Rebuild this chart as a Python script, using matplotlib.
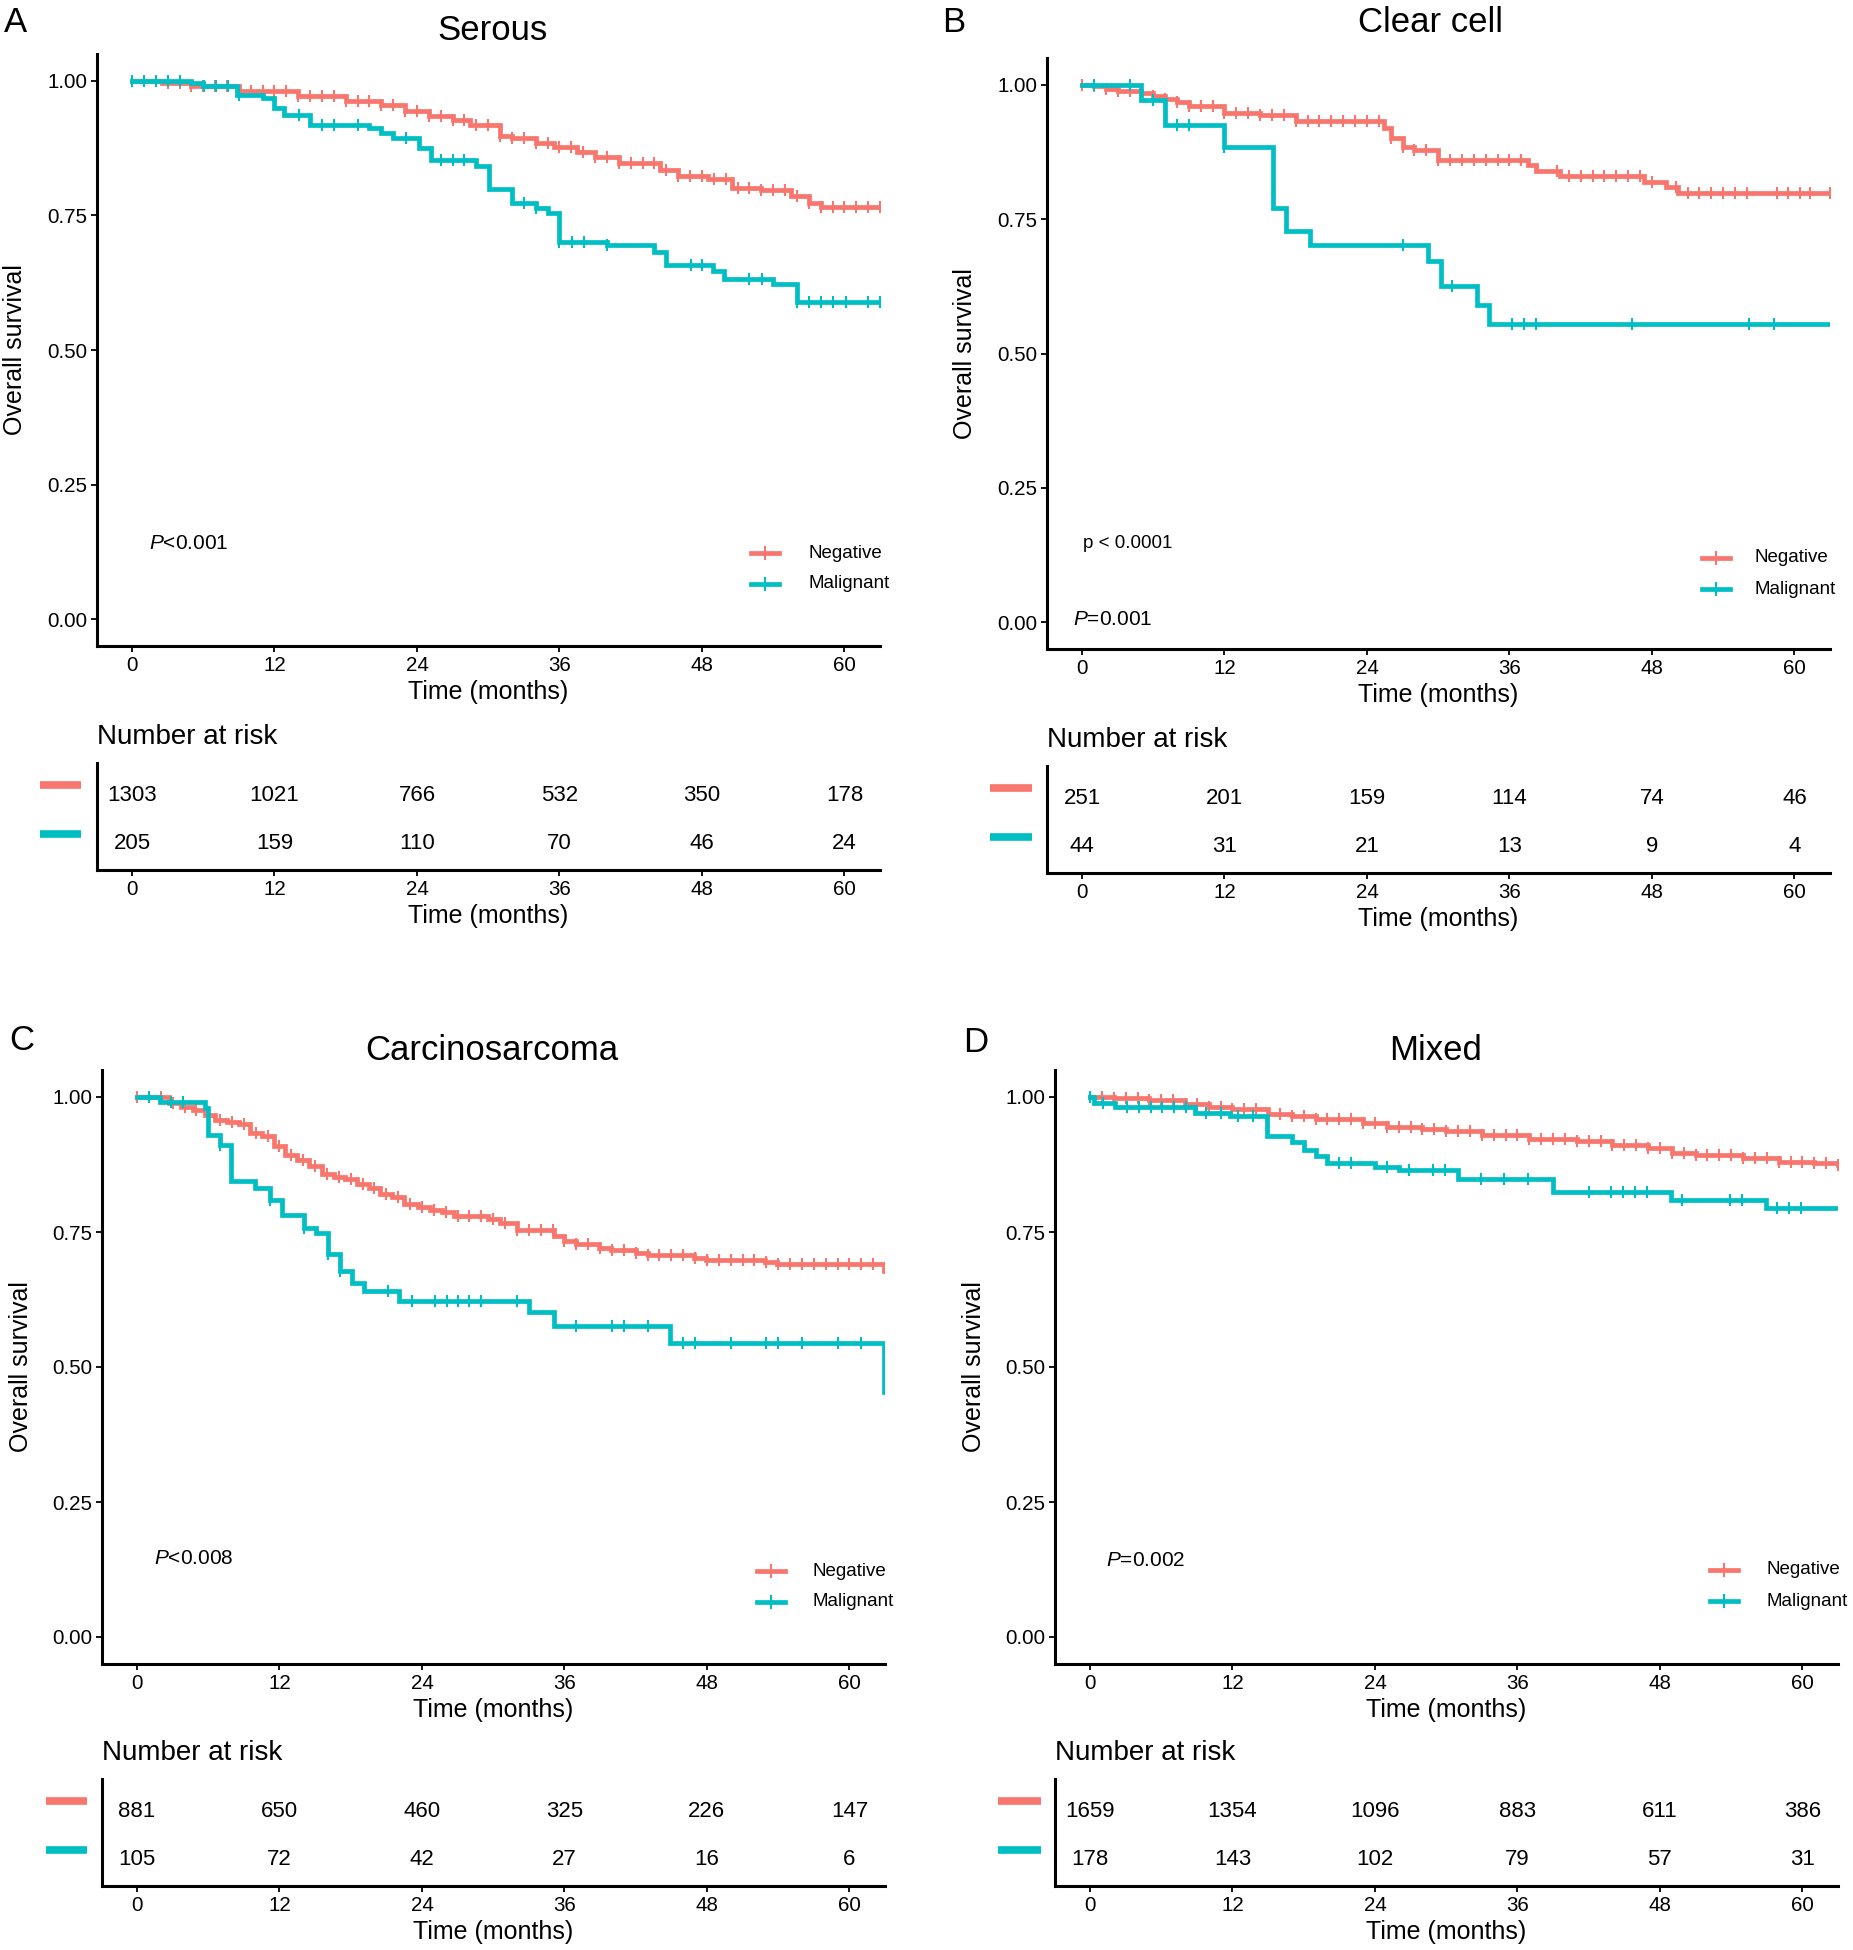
import numpy as np
import matplotlib
matplotlib.use("Agg")
import matplotlib.pyplot as plt
from matplotlib.lines import Line2D

plt.rcParams['font.family'] = ['Liberation Sans', 'DejaVu Sans']
plt.rcParams['mathtext.fontset'] = 'custom'
plt.rcParams['mathtext.rm'] = 'Liberation Sans'
plt.rcParams['mathtext.it'] = 'Liberation Sans:italic'

RED = '#F8766D'
TEAL = '#00BFC4'

# ---- data ----
time_ticks = [0, 12, 24, 36, 48, 60]
group_labels = ['Negative', 'Malignant']

# A  Serous
a_neg_t = [0, 2.5, 5, 9, 14, 18, 21, 23, 25, 27, 28.5, 31, 32, 34, 35.5, 37.5, 39, 41, 44.5, 46, 48.5, 50.5, 53, 55.5, 57, 58, 63]
a_neg_s = [1.0, 0.996, 0.99, 0.982, 0.972, 0.962, 0.955, 0.945, 0.935, 0.927, 0.918, 0.897, 0.893, 0.885, 0.877, 0.868, 0.858, 0.847, 0.834, 0.823, 0.818, 0.801, 0.797, 0.787, 0.774, 0.765, 0.765]
a_neg_c = [0, 1, 2, 3, 4, 5, 6, 7, 8, 9, 10, 11, 12, 13, 14, 15, 16, 17, 18, 19, 20, 21, 22, 23, 24, 25, 26, 27, 28, 29, 30,
           31, 32, 33, 34, 35, 36, 37, 38, 39, 40, 41, 42, 43, 44, 45, 46, 47, 48, 49, 50, 51, 52, 53, 54, 55, 56, 57, 58, 59, 60, 61, 62, 63]
a_mal_t = [0, 5, 6, 8.8, 11, 12, 12.8, 15, 20, 21, 22, 24.2, 25.2, 29, 30.1, 32, 34, 35, 36, 40, 44, 45, 48.9, 49.9, 54, 56, 63]
a_mal_s = [1.0, 0.996, 0.99, 0.974, 0.968, 0.949, 0.937, 0.918, 0.912, 0.903, 0.894, 0.875, 0.853, 0.842, 0.80, 0.773, 0.764, 0.755, 0.701, 0.695, 0.683, 0.658, 0.646, 0.632, 0.622, 0.59, 0.59]
a_mal_c = [0, 1, 2, 3, 4, 6.1, 7.1, 8.1, 9, 14.1, 16, 17, 19, 23.1, 26, 27, 28, 33, 34, 36, 37.1, 38.1, 40, 47.1, 48, 52, 53.1, 56, 57, 58, 59, 60.1, 62, 63]
a_risk_neg = [1303, 1021, 766, 532, 350, 178]
a_risk_mal = [205, 159, 110, 70, 46, 24]

# B  Clear cell
b_neg_t = [0, 1, 2, 3, 5, 6, 7, 8, 9, 12, 15, 18, 25.4, 26, 27, 28, 30, 37.6, 38.2, 40.3, 47.3, 49.2, 50.2, 63]
b_neg_s = [1.0, 0.997, 0.992, 0.989, 0.985, 0.979, 0.974, 0.968, 0.96, 0.948, 0.943, 0.932, 0.92, 0.901, 0.885, 0.879, 0.86, 0.851, 0.839, 0.83, 0.82, 0.81, 0.798, 0.798]
b_neg_c = [0, 1, 2, 3, 4, 6, 7, 8, 9, 10, 11, 12, 13, 14, 15, 16, 17, 18, 19, 20, 21, 22, 23, 24, 25, 26, 27, 28, 29, 30, 31,
           32, 33, 34, 35, 36, 37, 40, 41, 42, 43, 44, 45, 46, 47, 48, 50, 51, 52, 53, 54, 55, 56, 58.5, 59.5, 60.5, 61.3, 63]
b_mal_t = [0, 5, 7, 12, 16.1, 17.2, 19.2, 29.1, 30.2, 33.3, 34.3, 63]
b_mal_s = [1.0, 0.972, 0.925, 0.885, 0.77, 0.728, 0.702, 0.673, 0.625, 0.59, 0.555, 0.555]
b_mal_c = [1, 4, 6, 8, 9, 12, 27, 31.2, 36.2, 37.2, 38.2, 46.3, 56.2, 58.3]
b_risk_neg = [251, 201, 159, 114, 74, 46]
b_risk_mal = [44, 31, 21, 13, 9, 4]

# C  Carcinosarcoma
c_neg_t = [0, 2.7, 3.7, 4.7, 5.7, 6.6, 7.6, 8.6, 9.5, 10.5, 11.5, 12.5, 13.5, 14.5, 15.6, 16.6, 17.5, 18.5, 19.5, 20.5, 21.5, 22.5,
           23.7, 24.7, 25.7, 26.7, 29.6, 30.6, 32, 35.1, 36, 37, 38.9, 39.9, 42, 43, 46.9, 47.9, 52.9, 53.9, 62.9, 63]
c_neg_s = [1.0, 0.988, 0.982, 0.976, 0.966, 0.958, 0.953, 0.95, 0.933, 0.927, 0.909, 0.893, 0.884, 0.872, 0.858, 0.852, 0.848, 0.839, 0.831, 0.82, 0.814, 0.801,
           0.797, 0.791, 0.787, 0.779, 0.774, 0.766, 0.754, 0.742, 0.734, 0.728, 0.72, 0.716, 0.711, 0.708, 0.702, 0.699, 0.694, 0.691, 0.677, 0.677]
c_neg_c = [0, 1, 2, 3, 4, 5, 6, 7, 8, 9, 10, 11, 12, 13, 14, 15, 16, 17, 18, 19, 20, 21, 22, 23, 24, 25, 26, 27, 28, 29, 30,
           31, 32, 33, 34, 35, 36, 37, 38, 39, 40, 41, 42, 43, 44, 45, 46, 47, 48, 49, 50, 51, 52, 53, 54, 55, 56, 57, 58, 59, 60, 61, 62]
c_mal_t = [0, 1.9, 5.7, 6.0, 7.0, 7.95, 9.9, 11.2, 12.2, 14.1, 15.1, 16.1, 17.1, 18.1, 19.1, 22.1, 33.0, 35.1, 44.9, 62.9, 63]
c_mal_s = [1.0, 0.991, 0.979, 0.93, 0.912, 0.844, 0.832, 0.81, 0.781, 0.758, 0.749, 0.709, 0.678, 0.655, 0.641, 0.622, 0.602, 0.576, 0.544, 0.454, 0.454]
c_mal_c = [1, 2.9, 3.9, 7, 11.2, 14.1, 16.1, 17.1, 21.1, 23.2, 25.1, 26.1, 27, 28, 29, 32, 37, 40, 41, 43, 46, 47, 50, 53, 54, 56, 59, 61]
c_risk_neg = [881, 650, 460, 325, 226, 147]
c_risk_mal = [105, 72, 42, 27, 16, 6]

# D  Mixed
d_neg_t = [0, 2, 5, 8, 10, 12, 15, 17, 19, 23, 25, 28, 30, 33, 37, 41, 44, 47, 49, 51, 55, 58, 61, 63]
d_neg_s = [1.0, 0.998, 0.995, 0.987, 0.981, 0.977, 0.968, 0.964, 0.96, 0.952, 0.945, 0.941, 0.937, 0.93, 0.923, 0.918, 0.912, 0.906, 0.897, 0.893, 0.887, 0.88, 0.877, 0.875]
d_neg_c = [0, 1, 2, 3, 4, 5, 6, 7, 8, 9, 10, 11, 12, 13, 14, 15, 16, 17, 18, 19, 20, 21, 22, 23, 24, 25, 26, 27, 28, 29, 30,
           31, 32, 33, 34, 35, 36, 37, 38, 39, 40, 41, 42, 43, 44, 45, 46, 47, 48, 49, 50, 51, 52, 53, 54, 55, 56, 57, 58, 59, 60, 61, 62, 63]
d_mal_t = [0, 0.3, 2.1, 8.8, 11.8, 14.9, 17, 18, 19, 20, 24, 26, 31, 39, 48.9, 56.9, 63]
d_mal_s = [1.0, 0.989, 0.981, 0.971, 0.964, 0.927, 0.917, 0.902, 0.891, 0.877, 0.871, 0.865, 0.848, 0.824, 0.81, 0.795, 0.795]
d_mal_c = [0, 1.1, 3.1, 4.1, 5.1, 6.1, 7.1, 8.1, 9.8, 11, 12.5, 13.7, 21, 22, 25, 26.9, 28.9, 29.9, 32.9, 34.9, 36.9,
           42, 43.9, 44.9, 45.9, 46.9, 49.9, 53.9, 54.9, 57.9, 58.9, 59.9]
d_risk_neg = [1659, 1354, 1096, 883, 611, 386]
d_risk_mal = [178, 143, 102, 79, 57, 31]

W, H = 1853, 1950
fig = plt.figure(figsize=(W / 100, H / 100), dpi=100)


def box(l, t, r, b):
    # pixel box (from top-left) -> figure fraction rect
    return [l / W, 1 - b / H, (r - l) / W, (b - t) / H]


def ftext(x, y, s, **kw):
    fig.text(x / W, 1 - y / H, s, **kw)


def surv_at(times, surv, c):
    idx = np.searchsorted(times, c, side='right') - 1
    return np.asarray(surv)[np.clip(idx, 0, len(surv) - 1)]


def style_axis(ax):
    for sp in ['top', 'right']:
        ax.spines[sp].set_visible(False)
    for sp in ['left', 'bottom']:
        ax.spines[sp].set_linewidth(2.2)
    ax.tick_params(direction='out', length=4, width=1.3, labelsize=14.8, pad=3, colors='black')
    ax.set_xticks(time_ticks)
    ax.set_xlim(-2.95, 63)


panels = [
    dict(letter='A', title='Serous', neg=(a_neg_t, a_neg_s, a_neg_c), mal=(a_mal_t, a_mal_s, a_mal_c),
         risk=(a_risk_neg, a_risk_mal), main=(97, 54, 880, 646), tab=(97, 763, 880, 870), ylab_x=16,
         ptext=(149, 543, r'$\it{P}$<0.001'), p2=None, leg=(751, 553, 808), letter_xy=(15, 22),
         title_xy=(492, 30), bars=(40, 81)),
    dict(letter='B', title='Clear cell', neg=(b_neg_t, b_neg_s, b_neg_c), mal=(b_mal_t, b_mal_s, b_mal_c),
         risk=(b_risk_neg, b_risk_mal), main=(1047, 58, 1830, 649), tab=(1047, 766, 1830, 873), ylab_x=966,
         ptext=(1073, 619, r'$\it{P}$=0.001'), p2=(1083, 544, 'p < 0.0001'), leg=(1702, 558, 1755),
         letter_xy=(954, 22), title_xy=(1430, 22), bars=(990, 1032)),
    dict(letter='C', title='Carcinosarcoma', neg=(c_neg_t, c_neg_s, c_neg_c), mal=(c_mal_t, c_mal_s, c_mal_c),
         risk=(c_risk_neg, c_risk_mal), main=(102, 1070, 885, 1664), tab=(102, 1779, 885, 1886), ylab_x=22,
         ptext=(154, 1558, r'$\it{P}$<0.008'), p2=None, leg=(757, 1571, 813), letter_xy=(22, 1040),
         title_xy=(492, 1051), bars=(46, 87)),
    dict(letter='D', title='Mixed', neg=(d_neg_t, d_neg_s, d_neg_c), mal=(d_mal_t, d_mal_s, d_mal_c),
         risk=(d_risk_neg, d_risk_mal), main=(1055, 1070, 1838, 1664), tab=(1055, 1779, 1838, 1886), ylab_x=975,
         ptext=(1106, 1561, r'$\it{P}$=0.002'), p2=None, leg=(1710, 1570, 1766), letter_xy=(976, 1042),
         title_xy=(1436, 1050), bars=(998, 1041)),
]

for p in panels:
    l, t, r, b = p['main']
    ax = fig.add_axes(box(l, t, r, b))
    style_axis(ax)
    ax.set_ylim(-0.05, 1.05)
    ax.set_yticks([0, 0.25, 0.5, 0.75, 1.0])
    ax.set_yticklabels(['0.00', '0.25', '0.50', '0.75', '1.00'])

    for (tt, ss, cc), col in [(p['neg'], RED), (p['mal'], TEAL)]:
        ax.plot(tt, ss, drawstyle='steps-post', color=col, lw=3.4, solid_joinstyle='miter')
        ax.plot(cc, surv_at(tt, ss, cc), ls='none', marker='|', ms=9, mew=1.5, color=col)

    ax.set_xlabel('Time (months)', fontsize=18, labelpad=4)
    # y label centred on ylab_x (label anchor is its right edge)
    ax.set_ylabel('Overall survival', fontsize=18)
    ax.yaxis.set_label_coords((p['ylab_x'] + 11 - l) / (r - l), 0.5)

    # title and panel letter
    ftext(*p['title_xy'], p['title'], fontsize=25, ha='center', va='center')
    ftext(*p['letter_xy'], p['letter'], fontsize=25, ha='center', va='center')

    # p values
    px, py, ps = p['ptext']
    ftext(px, py, ps, fontsize=15, ha='left', va='center')
    if p['p2'] is not None:
        ftext(p['p2'][0], p['p2'][1], p['p2'][2], fontsize=13.5, ha='left', va='center')

    # legend
    lx, ly, tx = p['leg']
    for i, (lab, col) in enumerate(zip(group_labels, [RED, TEAL])):
        yy = ly + i * 31
        fig.add_artist(Line2D([lx / W, (lx + 28) / W], [1 - yy / H, 1 - yy / H], color=col, lw=3.4))
        fig.add_artist(Line2D([(lx + 14) / W] * 2, [1 - (yy - 6) / H, 1 - (yy + 6) / H], color=col, lw=1.5))
        ftext(tx, yy, lab, fontsize=13.5, ha='left', va='center')

    # risk table
    tl, tt_, tr, tb = p['tab']
    tax = fig.add_axes(box(tl, tt_, tr, tb))
    style_axis(tax)
    tax.set_ylim(0, 1)
    tax.set_yticks([])
    tax.set_xlabel('Time (months)', fontsize=18, labelpad=4)
    rows_y = [0.70, 0.245]
    for vals, yv in zip(p['risk'], rows_y):
        for xv, v in zip(time_ticks, vals):
            tax.text(xv, yv, str(v), fontsize=16, ha='center', va='center')
    ftext(tl, tt_ - 26, 'Number at risk', fontsize=20, ha='left', va='center')
    bx0, bx1 = p['bars']
    for yv, col in zip(rows_y, [RED, TEAL]):
        ypix = tb - yv * (tb - tt_) - 10
        fig.add_artist(Line2D([bx0 / W, bx1 / W], [1 - ypix / H] * 2, color=col, lw=5.5, solid_capstyle='butt'))

fig.savefig('out.png', dpi=100)
